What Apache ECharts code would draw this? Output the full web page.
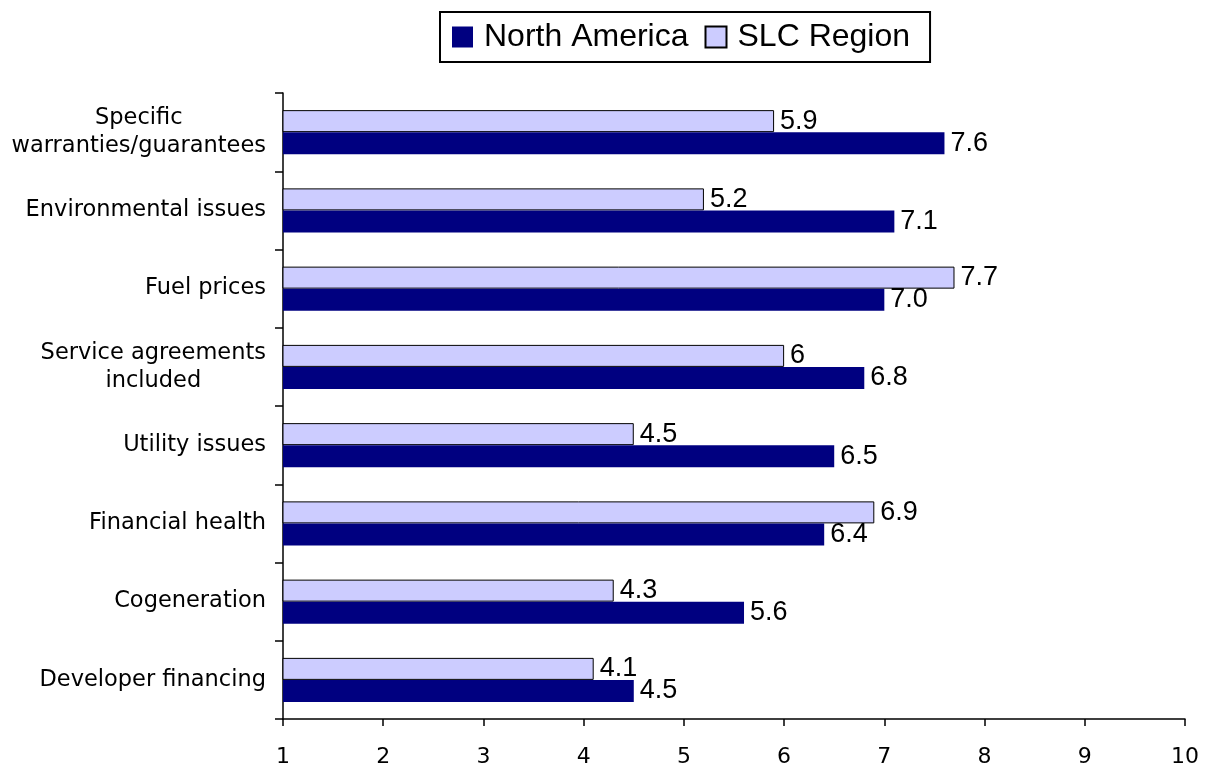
<!DOCTYPE html>
<html>
<head>
<meta charset="utf-8">
<script src="https://cdn.jsdelivr.net/npm/echarts@6/dist/echarts.min.js"></script>
<style>
  html, body { margin: 0; padding: 0; background: #ffffff; }
  #chart { width: 1212px; height: 765px; }
</style>
</head>
<body>
<div id="chart"></div>
<script>
// Categories, listed bottom to top as the y axis draws them
const categories = [
  'Developer financing',
  'Cogeneration',
  'Financial health',
  'Utility issues',
  'Service agreements\nincluded',
  'Fuel prices',
  'Environmental issues',
  'Specific\nwarranties/guarantees'
];

// Ratings for each region, same order as categories
const northAmerica = [4.5, 5.6, 6.4, 6.5, 6.8, 7.0, 7.1, 7.6];
const slcRegion = [4.1, 4.3, 6.9, 4.5, 6, 7.7, 5.2, 5.9];

// Value axis ticks
const axisMin = 1;
const axisMax = 10;
const axisStep = 1;

const chart = echarts.init(document.getElementById('chart'), null, { renderer: 'canvas' });

const valueLabel = (fmt) => ({
  show: true,
  position: 'right',
  distance: 6,
  color: '#000000',
  fontFamily: '"Liberation Sans", Arial, sans-serif',
  fontSize: 27,
  formatter: (p) => fmt(p.value)
});

chart.setOption({
  animation: false,
  backgroundColor: '#ffffff',
  legend: {
    data: ['North America', 'SLC Region'],
    left: 440,
    top: 12,
    orient: 'horizontal',
    padding: [9, 20, 9, 12],
    itemGap: 16,
    itemWidth: 21,
    itemHeight: 21,
    icon: 'rect',
    borderColor: '#000000',
    borderWidth: 2,
    textStyle: {
      color: '#000000',
      fontFamily: '"Liberation Sans", Arial, sans-serif',
      fontSize: 32,
      padding: [0, 0, 0, 6]
    }
  },
  grid: {
    left: 283,
    right: 27,
    top: 93,
    bottom: 46,
    containLabel: false,
    outerBoundsMode: 'none'
  },
  xAxis: {
    type: 'value',
    min: axisMin,
    max: axisMax,
    interval: axisStep,
    splitLine: { show: false },
    axisLine: { show: true, lineStyle: { color: '#000000', width: 1.5 } },
    axisTick: { show: true, length: 7, lineStyle: { color: '#000000', width: 1.5 } },
    axisLabel: {
      color: '#000000',
      fontFamily: '"DejaVu Sans", Verdana, sans-serif',
      fontSize: 22,
      margin: 27
    }
  },
  yAxis: {
    type: 'category',
    data: categories,
    axisLine: { show: true, lineStyle: { color: '#000000', width: 1.5 } },
    axisTick: { show: true, length: 8, lineStyle: { color: '#000000', width: 1.5 } },
    splitLine: { show: false },
    axisLabel: {
      margin: 17,
      formatter: (v) => v.split('\n').map((line) => '{c|' + line + '}').join('\n'),
      rich: {
        c: {
          align: 'center',
          color: '#000000',
          fontFamily: '"DejaVu Sans", Verdana, sans-serif',
          fontSize: 22.5,
          lineHeight: 28
        }
      }
    }
  },
  series: [
    {
      name: 'SLC Region',
      type: 'bar',
      data: slcRegion,
      barWidth: 22,
      barGap: '0%',
      itemStyle: { color: '#CCCCFF', borderColor: '#000000', borderWidth: 1 },
      label: valueLabel((v) => String(v))
    },
    {
      name: 'North America',
      type: 'bar',
      data: northAmerica,
      barWidth: 22,
      barGap: '0%',
      itemStyle: { color: '#000080' },
      label: valueLabel((v) => v.toFixed(1))
    }
  ]
});
</script>
</body>
</html>
